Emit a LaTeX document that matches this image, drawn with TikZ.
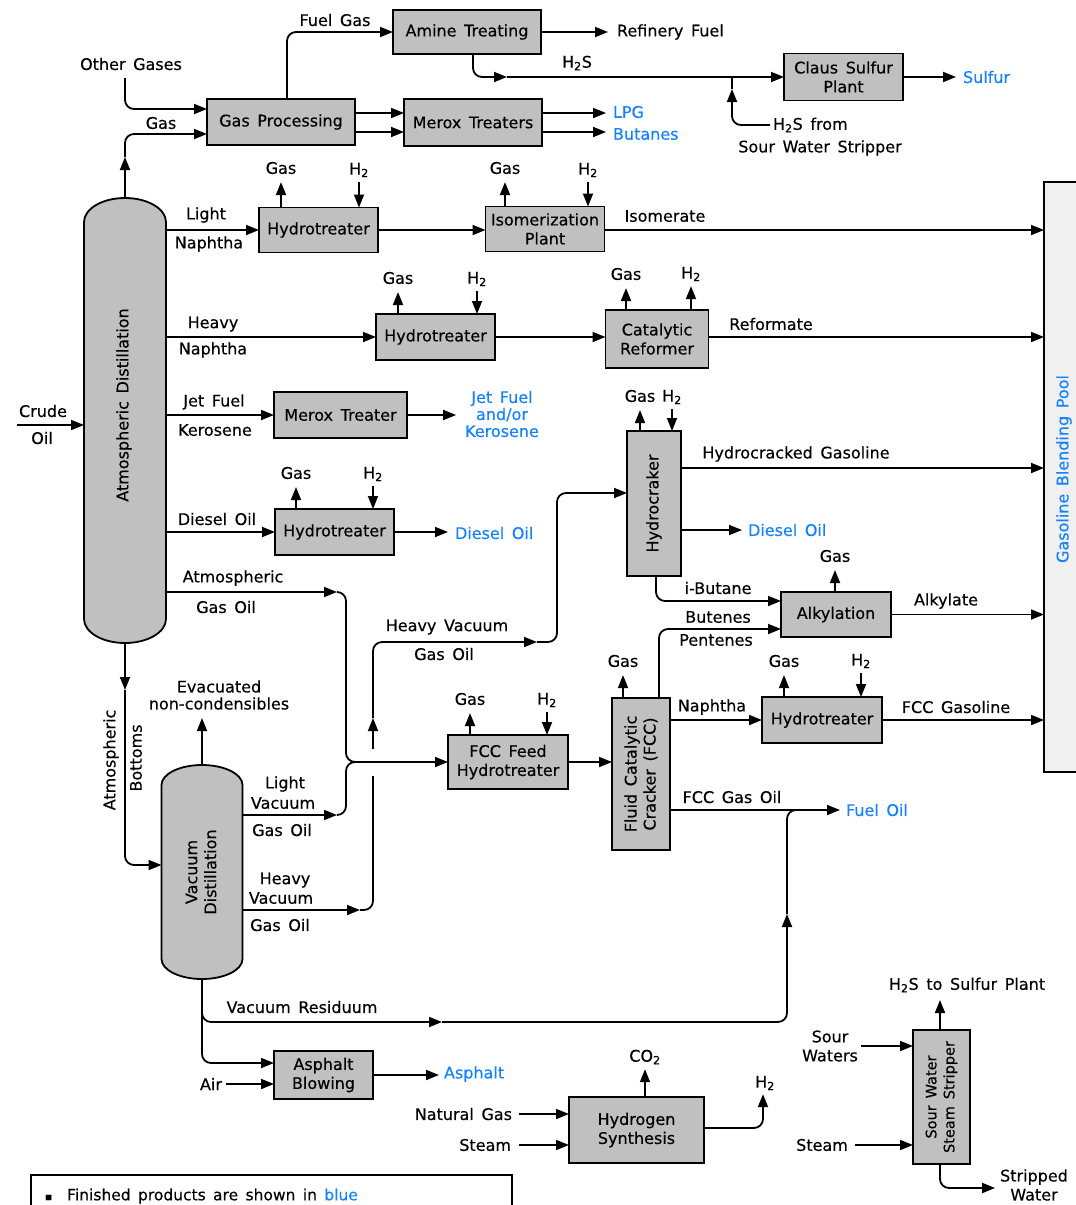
\documentclass[tikz,border=0pt]{standalone}
\usepackage{fontspec}
\setmainfont[WordSpace=1.5,RawFeature={embolden=0.35}]{DejaVu Sans}
\usetikzlibrary{arrows.meta}
\definecolor{boxgray}{RGB}{192,192,192}
\definecolor{poolgray}{RGB}{240,240,240}
\definecolor{prodblue}{RGB}{20,130,255}
\begin{document}
\begin{tikzpicture}[x=1pt,y=-1pt,
  every node/.style={font=\fontsize{16}{19}\selectfont,inner sep=0pt,outer sep=0pt},
  ln/.style={line width=1.8pt},
  arr/.style={line width=1.8pt,-{Triangle[length=13pt,width=10pt]}},
  rc/.style={rounded corners=9pt},
  box/.style 2 args={draw,fill=boxgray,line width=1.8pt,minimum width=#1,minimum height=#2,align=center},
  prod/.style={text=prodblue},
  vtxt/.style={rotate=90,align=center},
  col/.style={draw,fill=boxgray,line width=1.8pt}
]
\useasboundingbox (0,0) rectangle (1076,1205);

% ---------- columns ----------
\node[minimum width=82pt,minimum height=445pt] (atm) at (125,420.5) {};
\draw[col] ([yshift=24pt]atm.south west) arc[start angle=180,end angle=360,x radius=41pt,y radius=24pt]
  -- ([yshift=-24pt]atm.north east) arc[start angle=0,end angle=180,x radius=41pt,y radius=24pt] -- cycle;
\node[vtxt] (atmtxt) at (124,405) {Atmospheric Distillation};

\node[minimum width=81pt,minimum height=214pt] (vac) at (202,872) {};
\draw[col] ([yshift=20pt]vac.south west) arc[start angle=180,end angle=360,x radius=40.5pt,y radius=20pt]
  -- ([yshift=-20pt]vac.north east) arc[start angle=0,end angle=180,x radius=40.5pt,y radius=20pt] -- cycle;
\node[vtxt] (vactxt) at (201,872) {Vacuum\\Distillation};

% ---------- boxes ----------
\node[box={148pt}{46pt}] (gasproc) at (281,122) {Gas Processing};
\node[box={148pt}{44pt}] (amine) at (467,32) {Amine Treating};
\node[box={138pt}{47pt}] (merox) at (473,122.5) {Merox Treaters};
\node[box={119pt}{47pt}] (claus) at (843.5,77) {Claus Sulfur\\Plant};
\node[box={119pt}{45pt}] (ht1) at (318.5,230) {Hydrotreater};
\node[box={119pt}{45pt}] (iso) at (545,229) {Isomerization\\Plant};
\node[box={119pt}{46pt}] (ht2) at (435.5,337) {Hydrotreater};
\node[box={103pt}{58pt}] (catref) at (657,339) {Catalytic\\Reformer};
\node[box={133pt}{46pt}] (meroxt) at (340.5,415) {Merox Treater};
\node[box={119pt}{46pt}] (ht3) at (334.5,532) {Hydrotreater};
\node[box={54pt}{145pt}] (hcrack) at (654,503.5) {};
\node[vtxt] (hcracktxt) at (hcrack) {Hydrocraker};
\node[box={110pt}{45pt}] (alky) at (836,614.5) {Alkylation};
\node[box={120pt}{54pt}] (fccfeed) at (508,762) {FCC Feed\\Hydrotreater};
\node[box={58pt}{152pt}] (fcc) at (641,774) {};
\node[vtxt] (fcctxt) at (fcc) {Fluid Catalytic\\Cracker (FCC)};
\node[box={120pt}{46pt}] (ht4) at (822,720) {Hydrotreater};
\node[box={99pt}{48pt}] (asph) at (323.5,1075) {Asphalt\\Blowing};
\node[box={135pt}{66pt}] (h2syn) at (636.5,1130) {Hydrogen\\Synthesis};
\node[box={57pt}{134pt}] (sws) at (941.5,1097) {};
\node[vtxt,font=\fontsize{14.5}{18}\selectfont] (swstxt) at (sws) {Sour Water\\Steam Stripper};
\node[draw,fill=poolgray,line width=1.8pt,minimum width=50pt,minimum height=590pt] (pool) at (1069,477) {};
\node[vtxt,prod] (pooltxt) at (1064,469) {Gasoline Blending Pool};

% ---------- top: gases ----------
\node (otherg) at (131,64) {Other Gases};
\coordinate (ogtop) at (125,78);
\coordinate (ogin) at (125,109);
\draw[arr,rc] (ogtop) -- (ogin) -- (gasproc.west |- ogin);

\coordinate (gasmid) at (125,157);
\coordinate (gpin2) at (125,134);
\draw[arr] (atm.north) -- (gasmid);
\draw[arr,rc] (gasmid) -- (gpin2) -- (gasproc.west |- gpin2);
\node (gaslbl) at (161,123) {Gas};

\coordinate (fg) at (287,32);
\draw[arr,rc] (gasproc.north -| fg) -- (fg) -- (amine.west);
\node (fuelgas) at (335,20) {Fuel Gas};

\node[anchor=west] (reffuel) at (617,32) {Refinery Fuel};
\draw[arr,shorten >=9pt] (amine.east) -- (reffuel.west);

\coordinate (h2sc) at (473,77);
\coordinate (h2sm) at (507,77);
\draw[arr,rc] (amine.south -| h2sc) -- (h2sc) -- (h2sm);
\draw[arr] (h2sm) -- (claus.west);
\node (h2slbl) at (577,63) {H\textsubscript{2}S};

\coordinate (jn) at (732,77);
\coordinate (jnm) at (732,89);
\node[anchor=west] (h2sfrom) at (773,125) {H\textsubscript{2}S from};
\node (swsname) at (820,148) {Sour Water Stripper};
\draw[arr,rc,shorten <=3pt] (h2sfrom.west) -- (h2sfrom.west -| jn) -- (jnm);
\draw[ln] (jnm) -- (jn);

\node[anchor=west,prod] (sulfur) at (963,77) {Sulfur};
\draw[arr,shorten >=7pt] (claus.east) -- (sulfur.west);

\coordinate (m1) at (380,113);
\coordinate (m2) at (380,132);
\draw[arr] (gasproc.east |- m1) -- (merox.west |- m1);
\draw[arr] (gasproc.east |- m2) -- (merox.west |- m2);
\node[anchor=west,prod] (lpg) at (613,112) {LPG};
\node[anchor=west,prod] (butanes) at (613,134) {Butanes};
\coordinate (lpgt) at (606,113);
\coordinate (butt) at (606,132);
\draw[arr] (merox.east |- m1) -- (lpgt);
\draw[arr] (merox.east |- m2) -- (butt);

% ---------- crude ----------
\coordinate (crude) at (17,425);
\draw[arr] (crude) -- (crude -| atm.west);
\node (crudel) at (43,411) {Crude};
\node (oill) at (42,438) {Oil};

% ---------- light naphtha ----------
\draw[arr] (atm.east |- ht1.west) -- (ht1.west);
\node (ln1) at (206,215) {Light};
\node (ln2) at (209,244) {Naphtha};
\node (g1) at (281,168) {Gas};
\node (hh1) at (359,170) {H\textsubscript{2}};
\draw[arr,shorten >=8pt] (ht1.north -| g1) -- (g1.south);
\draw[arr,shorten <=5pt] (hh1.south) -- (ht1.north -| hh1);
\draw[arr] (ht1.east) -- (iso.west |- ht1.east);
\node (g2) at (505,168) {Gas};
\node (hh2) at (588,170) {H\textsubscript{2}};
\draw[arr,shorten >=8pt] (iso.north -| g2) -- (g2.south);
\draw[arr,shorten <=5pt] (hh2.south) -- (iso.north -| hh2);
\draw[arr] (iso.east |- ht1.east) -- (pool.west |- ht1.east);
\node (isom) at (665,216) {Isomerate};

% ---------- heavy naphtha ----------
\draw[arr] (atm.east |- ht2.west) -- (ht2.west);
\node (hn1) at (213,324) {Heavy};
\node (hn2) at (213,350) {Naphtha};
\node (g3) at (398,278) {Gas};
\node (hh3) at (477,279) {H\textsubscript{2}};
\draw[arr,shorten >=8pt] (ht2.north -| g3) -- (g3.south);
\draw[arr,shorten <=5pt] (hh3.south) -- (ht2.north -| hh3);
\draw[arr] (ht2.east) -- (catref.west |- ht2.east);
\node (g4) at (626,274) {Gas};
\node (hh4) at (691,274) {H\textsubscript{2}};
\draw[arr,shorten >=8pt] (catref.north -| g4) -- (g4.south);
\draw[arr,shorten >=5pt] (catref.north -| hh4) -- (hh4.south);
\draw[arr] (catref.east |- ht2.east) -- (pool.west |- ht2.east);
\node (refm) at (771,324) {Reformate};

% ---------- jet fuel ----------
\draw[arr] (atm.east |- meroxt.west) -- (meroxt.west);
\node (jf1) at (214,402) {Jet Fuel};
\node (jf2) at (215,430) {Kerosene};
\node[prod,align=center,font=\fontsize{16}{17}\selectfont] (jet) at (502,414) {Jet Fuel\\and/or\\Kerosene};
\draw[arr,shorten >=9pt] (meroxt.east) -- (jet.west |- meroxt.east);

% ---------- diesel ----------
\draw[arr] (atm.east |- ht3.west) -- (ht3.west);
\node (dl) at (217,519) {Diesel Oil};
\node (g5) at (296,473) {Gas};
\node (hh5) at (373,474) {H\textsubscript{2}};
\draw[arr,shorten >=8pt] (ht3.north -| g5) -- (g5.south);
\draw[arr,shorten <=5pt] (hh5.south) -- (ht3.north -| hh5);
\node[anchor=west,prod] (dies1) at (455,533) {Diesel Oil};
\draw[arr,shorten >=7pt] (ht3.east) -- (dies1.west |- ht3.east);

% ---------- gas oils into FCC feed ----------
\coordinate (mrg) at (346,762);
\coordinate (mrgr) at (358,762);
\coordinate (agot) at (337,592);
\coordinate (lvgot) at (337,815);
\draw[arr] (atm.east |- agot) -- (agot);
\draw[ln,rc] (agot) -- (agot -| mrg) -- (mrg) -- (mrgr);
\node (ago1) at (233,578) {Atmospheric};
\node (ago2) at (226,607) {Gas Oil};
\draw[arr] (vac.east |- lvgot) -- (lvgot);
\draw[ln,rc] (lvgot) -- (lvgot -| mrg) -- (mrg) -- (mrgr);
\node (lv1) at (285,784) {Light};
\node (lv2) at (283,803) {Vacuum};
\node (lv3) at (282,830) {Gas Oil};
\draw[arr] (mrgr) -- (fccfeed.west |- mrgr);

% heavy vacuum gas oil
\coordinate (hvgot) at (360,910);
\coordinate (hvx) at (373,910);
\coordinate (hvgap1) at (373,776);
\coordinate (hvgap2) at (373,749);
\coordinate (hvup) at (373,718);
\coordinate (hvtop) at (373,642);
\coordinate (hvt) at (537,642);
\coordinate (hvr) at (557,642);
\coordinate (hcin) at (557,493);
\draw[arr] (vac.east |- hvgot) -- (hvgot);
\draw[ln,rc] (hvgot) -- (hvx) -- (hvgap1);
\draw[arr] (hvgap2) -- (hvup);
\draw[arr,rc] (hvup) -- (hvtop) -- (hvt);
\draw[arr,rc] (hvt) -- (hvr) -- (hcin) -- (hcrack.west |- hcin);
\node (hv1) at (285,880) {Heavy};
\node (hv2) at (281,898) {Vacuum};
\node (hv3) at (280,925) {Gas Oil};
\node (hv4) at (447,627) {Heavy Vacuum};
\node (hv5) at (444,654) {Gas Oil};

% ---------- atmospheric bottoms / vacuum ----------
\coordinate (abm) at (125,690);
\coordinate (abc) at (125,865);
\draw[arr] (atm.south) -- (abm);
\draw[arr,rc] (abm) -- (abc) -- (vac.west |- abc);
\node[rotate=90] (ab1) at (111,760) {Atmospheric};
\node[rotate=90] (ab2) at (136,758) {Bottoms};
\node[align=center,font=\fontsize{16}{17}\selectfont] (evac) at (219,695) {Evacuated\\non-condensibles};
\coordinate (evt) at (202,718);
\draw[arr] (vac.north) -- (evt);

% vacuum residuum
\coordinate (vrc) at (202,1022);
\coordinate (vrm) at (442,1022);
\coordinate (vrr) at (787,1022);
\coordinate (vrup) at (787,914);
\coordinate (vrtop) at (787,810);
\coordinate (fojoin) at (802,810);
\draw[arr,rc] (vac.south) -- (vrc) -- (vrm);
\draw[arr,rc] (vrm) -- (vrr) -- (vrup);
\draw[ln,rc] (vrup) -- (vrtop) -- (fojoin);
\node (vres) at (302,1007) {Vacuum Residuum};
\coordinate (asc) at (202,1063);
\draw[arr,rc] (vac.south) -- (asc) -- (asph.west |- asc);
\node (air) at (211,1084) {Air};
\draw[arr,shorten <=4pt] (air.east) -- (asph.west |- air.east);
\node[anchor=west,prod] (asphalt) at (444,1074) {Asphalt};
\draw[arr,shorten >=5pt] (asph.east) -- (asphalt.west |- asph.east);

% ---------- FCC ----------
\node (g6) at (470,699) {Gas};
\node (hh6) at (547,700) {H\textsubscript{2}};
\draw[arr,shorten >=8pt] (fccfeed.north -| g6) -- (g6.south);
\draw[arr,shorten <=5pt] (hh6.south) -- (fccfeed.north -| hh6);
\draw[arr] (fccfeed.east) -- (fcc.west |- fccfeed.east);
\node (g7) at (623,661) {Gas};
\draw[arr,shorten >=8pt] (fcc.north -| g7) -- (g7.south);
\coordinate (bp) at (659,629);
\draw[arr,rc] (fcc.north -| bp) -- (bp) -- (alky.west |- bp);
\node (bt1) at (718,617) {Butenes};
\node (bt2) at (716,640) {Pentenes};
\draw[arr] (fcc.east |- ht4.west) -- (ht4.west);
\node (nap) at (712,707) {Naphtha};
\node (g8) at (784,661) {Gas};
\node (hh8) at (861,661) {H\textsubscript{2}};
\draw[arr,shorten >=8pt] (ht4.north -| g8) -- (g8.south);
\draw[arr,shorten <=5pt] (hh8.south) -- (ht4.north -| hh8);
\draw[arr] (ht4.east) -- (pool.west |- ht4.east);
\node (fccg) at (956,707) {FCC Gasoline};
\node[anchor=west,prod] (fueloil) at (846,810) {Fuel Oil};
\draw[arr,shorten >=6pt] (fcc.east |- fueloil.west) -- (fueloil.west);
\node (fccgo) at (732,797) {FCC Gas Oil};

% ---------- hydrocracker / alkylation ----------
\node (g9) at (640,396) {Gas};
\node (hh9) at (672,397) {H\textsubscript{2}};
\draw[arr,shorten >=8pt] (hcrack.north -| g9) -- (g9.south);
\draw[arr,shorten <=5pt] (hh9.south) -- (hcrack.north -| hh9);
\coordinate (hcg) at (700,468);
\draw[arr] (hcrack.east |- hcg) -- (pool.west |- hcg);
\node (hcgl) at (796,454) {Hydrocracked Gasoline};
\node[anchor=west,prod] (dies2) at (748,530) {Diesel Oil};
\draw[arr,shorten >=6pt] (hcrack.east |- dies2.west) -- (dies2.west);
\coordinate (ib) at (656,601);
\draw[arr,rc] (hcrack.south -| ib) -- (ib) -- (alky.west |- ib);
\node (ibl) at (718,588) {i-Butane};
\node (g10) at (835,556) {Gas};
\draw[arr,shorten >=8pt] (alky.north -| g10) -- (g10.south);
\draw[arr] (alky.east) -- (pool.west |- alky.east);
\node (alkl) at (946,601) {Alkylate};

% ---------- hydrogen synthesis ----------
\node[anchor=east] (ng) at (512,1114) {Natural Gas};
\draw[arr,shorten <=7pt] (ng.east) -- (h2syn.west |- ng.east);
\node[anchor=east] (steam1) at (511,1145) {Steam};
\draw[arr,shorten <=8pt] (steam1.east) -- (h2syn.west |- steam1.east);
\node (co2) at (645,1057) {CO\textsubscript{2}};
\draw[arr,shorten >=5pt] (h2syn.north -| co2) -- (co2.south);
\node (h2out) at (765,1083) {H\textsubscript{2}};
\coordinate (h2c) at (763,1128);
\draw[arr,rc,shorten >=4pt] (h2syn.east |- h2c) -- (h2c) -- (h2c |- h2out.south);

% ---------- sour water stripper ----------
\node[align=center] (sourw) at (830,1046) {Sour\\Waters};
\draw[arr,shorten <=3pt] (sourw.east) -- (sws.west |- sourw.east);
\node (steam2) at (822,1145) {Steam};
\draw[arr,shorten <=7pt] (steam2.east) -- (sws.west |- steam2.east);
\node (h2sto) at (967,985) {H\textsubscript{2}S to Sulfur Plant};
\coordinate (swsout) at (940,1000);
\draw[arr] (sws.north -| swsout) -- (swsout);
\node[align=center] (strip) at (1034,1185) {Stripped\\Water};
\coordinate (stc) at (940,1188);
\draw[arr,rc,shorten >=5pt] (sws.south -| stc) -- (stc) -- (strip.west |- stc);

% ---------- legend ----------
\draw[ln] (31,1215) -- (31,1175) -- (512,1175) -- (512,1215);
\node[anchor=west,font=\fontsize{15.5}{18}\selectfont] (legend) at (45,1196) {\scalebox{0.7}{▪}\ \ Finished products are shown in \textcolor{prodblue}{blue}};
\end{tikzpicture}
\end{document}
